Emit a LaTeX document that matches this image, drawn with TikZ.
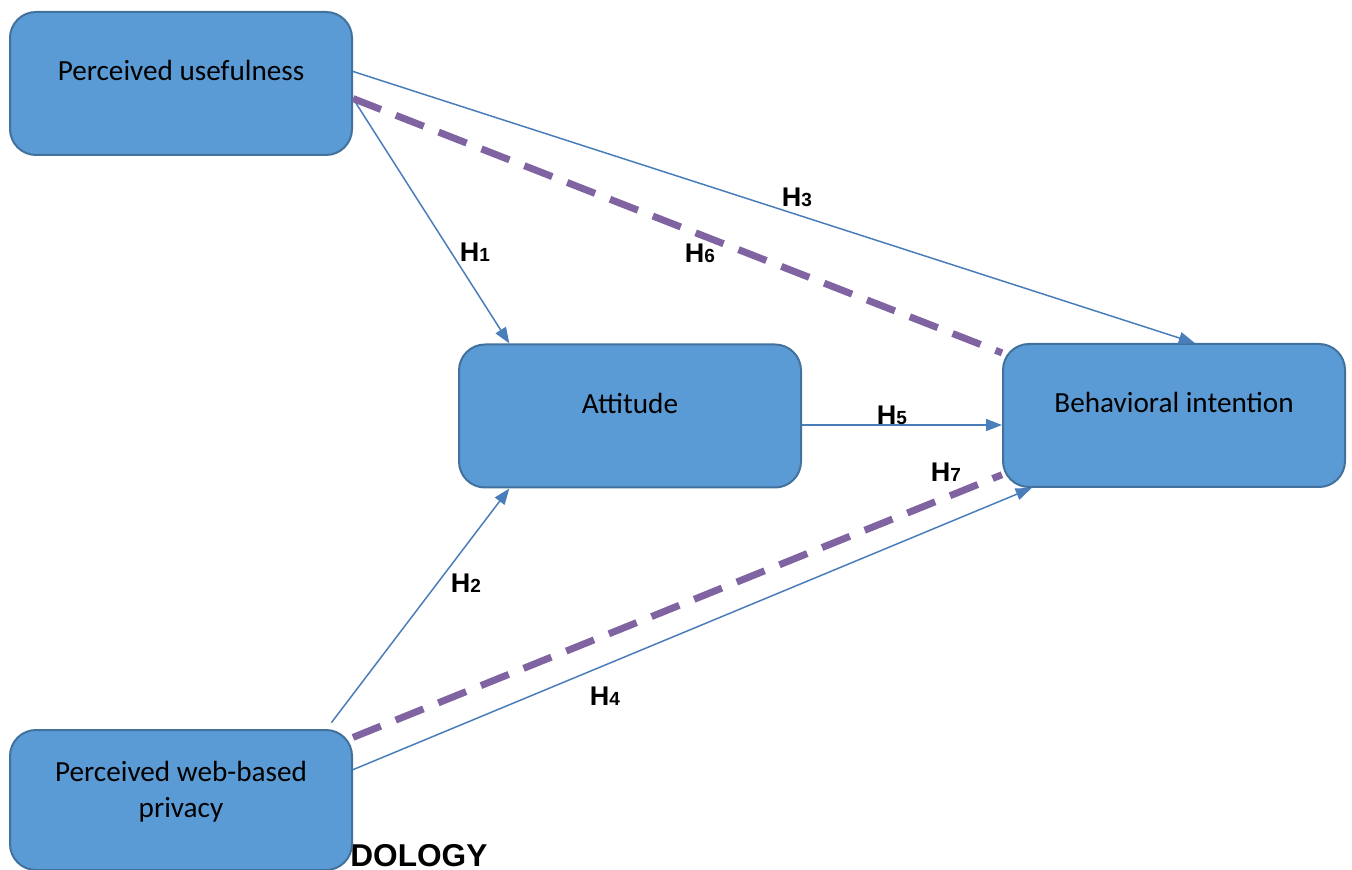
\documentclass[tikz,border=0pt]{standalone}
\usepackage{fontspec}
\setmainfont{Carlito}
\newfontfamily\hfont{Liberation Sans}
\usetikzlibrary{arrows.meta}

\definecolor{boxfill}{HTML}{5B9BD5}
\definecolor{boxline}{HTML}{41719C}
\definecolor{arrowblue}{HTML}{4A7EBB}
\definecolor{medpurple}{HTML}{8064A2}

\newcommand{\hlab}[1]{H{\fontsize{9.5}{9.5}\selectfont #1}}

\begin{document}
\begin{tikzpicture}[x=0.5pt,y=-0.5pt]
			\tikzstyle{construct}=[rectangle,rounded corners=13pt,draw=boxline,line width=1pt,fill=boxfill,
				minimum width=171pt,minimum height=71.5pt,inner sep=0pt,text depth=13pt,align=center,
				font=\fontsize{14.6}{18}\selectfont]
			\tikzstyle{hyp}=[draw=arrowblue,line width=0.75pt,-{Triangle[length=8pt,width=6pt]}]
			\tikzstyle{mediation}=[draw=medpurple,line width=3.5pt,dash pattern=on 15pt off 8pt]
			\tikzstyle{hlabel}=[inner sep=0pt,font=\hfont\bfseries\fontsize{13.5}{13.5}\selectfont]
			
			\useasboundingbox (0,0) rectangle (1352,870);
			
			\node[anchor=base west,inner sep=0pt,font=\hfont\bfseries\fontsize{15.8}{16}\selectfont] (meth) at (350,866) {DOLOGY};
			
			\node[construct] (pu) at (181,83.5) {Perceived usefulness};
			\node[construct] (att) at (630,416) {Attitude};
			\node[construct] (bi) at (1174,415.5) {Behavioral intention};
			\node[construct,minimum height=70pt,text depth=11pt] (pwp) at (181,800) {Perceived web-based\\privacy};
			
			% direct paths
			\draw[hyp] (pu.4.5) -- (bi.74.5);
			\draw[hyp] (pu.-5.6) -- (att.149);
			\draw[hyp] (att.-3.7) -- (att.-3.7 -| bi.west);
			\draw[hyp,shorten <=4pt] (pwp.26.1) -- (att.211);
			\draw[hyp] (pwp.10.6) -- (bi.207);
			
			% mediated paths
			\draw[mediation] (pu.-5.6) -- (bi.160.3);
			\draw[mediation] (pwp.20.7) -- (bi.199.2);
			
			\node[hlabel] (h1) at (475,252) {\hlab{1}};
			\node[hlabel] (h2) at (466,583) {\hlab{2}};
			\node[hlabel] (h3) at (797,197) {\hlab{3}};
			\node[hlabel] (h4) at (605,696) {\hlab{4}};
			\node[hlabel] (h5) at (892,415) {\hlab{5}};
			\node[hlabel] (h6) at (700,253) {\hlab{6}};
			\node[hlabel] (h7) at (946,472) {\hlab{7}};
			
\end{tikzpicture}
\end{document}
